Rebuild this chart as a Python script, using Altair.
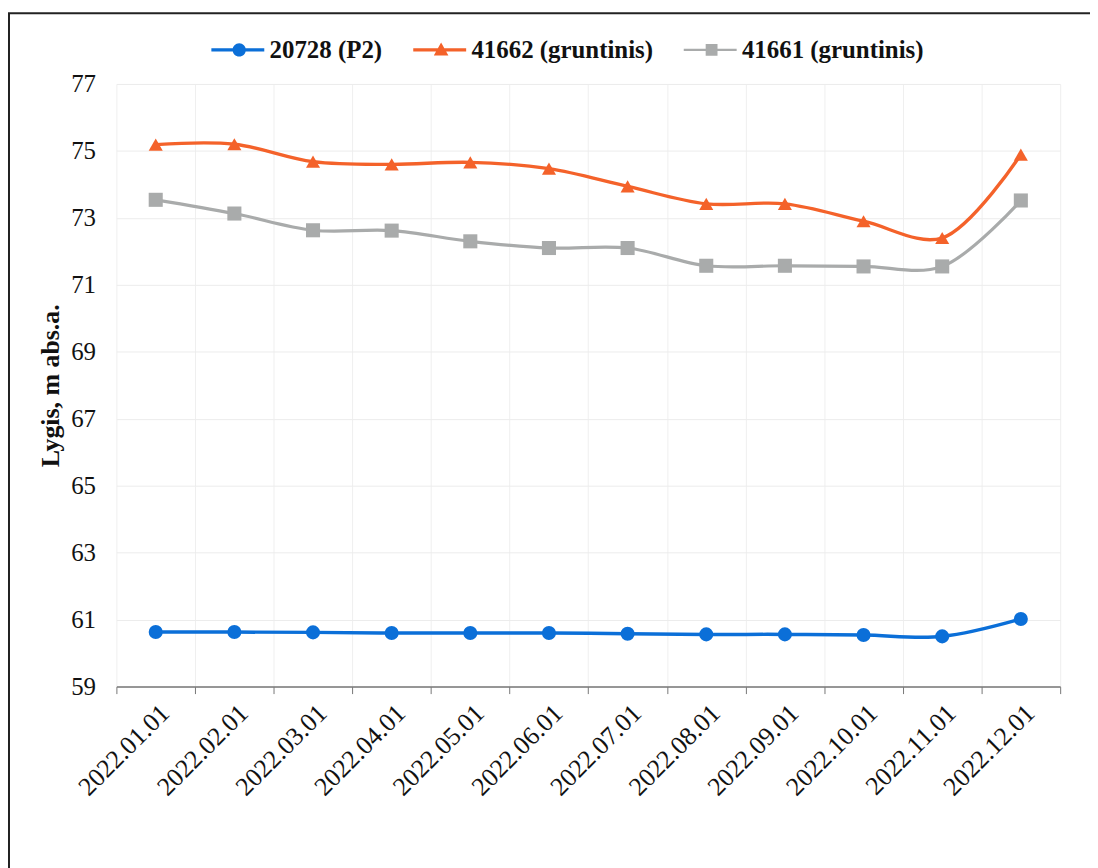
import altair as alt
import pandas as pd

dates = ["2022.01.01", "2022.02.01", "2022.03.01", "2022.04.01", "2022.05.01", "2022.06.01",
         "2022.07.01", "2022.08.01", "2022.09.01", "2022.10.01", "2022.11.01", "2022.12.01"]
series_names = ["20728 (P2)", "41662 (gruntinis)", "41661 (gruntinis)"]
s_20728 = [60.63, 60.63, 60.62, 60.60, 60.60, 60.60, 60.58, 60.56, 60.56, 60.54, 60.50, 61.02]
s_41662 = [75.19, 75.20, 74.68, 74.60, 74.66, 74.47, 73.94, 73.42, 73.42, 72.90, 72.40, 74.89]
s_41661 = [73.54, 73.13, 72.63, 72.62, 72.30, 72.10, 72.10, 71.57, 71.57, 71.55, 71.55, 73.52]
y_ticks = [59, 61, 63, 65, 67, 69, 71, 73, 75, 77]

colors = ["#0b6fd8", "#f4622a", "#a9abab"]
point_shapes = ["circle", "triangle-up", "square"]
# legend symbols: a line segment with the marker in the middle (unit box -1..1)
legend_shapes = [
    "M-4,-0.22H3.6V0.22H-4Z M0,-0.95 A0.95,0.95 0 1,1 0,0.95 A0.95,0.95 0 1,1 0,-0.95Z",
    "M-4,-0.22H3.6V0.22H-4Z M0,-1.05 L1.05,0.8 H-1.05Z",
    "M-4,-0.15H3.6V0.15H-4Z M-0.85,-0.85 H0.85 V0.85 H-0.85Z",
]

rows = []
for name, vals in zip(series_names, [s_20728, s_41662, s_41661]):
    for d, v in zip(dates, vals):
        rows.append({"date": d, "series": name, "value": v})
df = pd.DataFrame(rows)

FONT = "Liberation Serif"

x_enc = alt.X("date:N", sort=dates, title=None,
              scale=alt.Scale(type="band", paddingInner=0, paddingOuter=0),
              axis=alt.Axis(labelAngle=-45, labelFont=FONT, labelFontSize=26, labelColor="#111",
                            tickBand="extent", tickSize=7, tickColor="#777", domainColor="#777",
                            domainWidth=1.5, labelPadding=6, grid=True, gridColor="#efefef"))
y_enc = alt.Y("value:Q", title="Lygis, m abs.a.",
              scale=alt.Scale(domain=[59, 77], nice=False, zero=False),
              axis=alt.Axis(values=y_ticks, labelFont=FONT, labelFontSize=25, labelColor="#111",
                            domain=False, ticks=False, labelPadding=21, grid=True, gridColor="#ececec",
                            titleFont=FONT, titleFontSize=26, titleFontWeight="bold", titleColor="#111",
                            titlePadding=7))
color_scale = alt.Scale(domain=series_names, range=colors)

lines = alt.Chart(df).mark_line(interpolate="catmull-rom").encode(
    x=x_enc, y=y_enc,
    color=alt.Color("series:N", scale=color_scale, legend=None),
    strokeWidth=alt.StrokeWidth("series:N", scale=alt.Scale(domain=series_names, range=[3.5, 3.2, 2.4]), legend=None),
)
points = alt.Chart(df).mark_point(filled=True, opacity=1, size=200).encode(
    x=x_enc, y=y_enc,
    color=alt.Color("series:N", scale=color_scale, legend=None),
    shape=alt.Shape("series:N", scale=alt.Scale(domain=series_names, range=point_shapes), legend=None),
)
leg = alt.Legend(title=None, labelFont=FONT, labelFontSize=25, labelFontWeight="bold", labelColor="#111",
                 labelLimit=0, orient="none", legendX=90, legendY=-47, direction="horizontal",
                 symbolSize=196, symbolOffset=21, labelOffset=18, columnPadding=25)
legend_layer = alt.Chart(df).transform_filter("false").mark_point(filled=True, opacity=1).encode(
    x=x_enc, y=y_enc,
    color=alt.Color("series:N", scale=alt.Scale(domain=series_names, range=colors), legend=leg),
    shape=alt.Shape("series:N", scale=alt.Scale(domain=series_names, range=legend_shapes), legend=leg),
)

frame_top = alt.Chart(alt.Data(values=[{}])).mark_rule(color="#222", strokeWidth=2).encode(
    x=alt.value(-109), x2=alt.value(1100), y=alt.value(-71))
frame_left = alt.Chart(alt.Data(values=[{}])).mark_rule(color="#222", strokeWidth=2).encode(
    x=alt.value(-108), y=alt.value(-71), y2=alt.value(800))

chart = alt.layer(lines, points, legend_layer, frame_top, frame_left).resolve_scale(
    color="independent", shape="independent"
).properties(
    width=949, height=606,
    autosize=alt.AutoSizeParams(type="none"),
    padding={"left": 109, "top": 74, "right": 30, "bottom": 180},
    background="white",
).configure_view(stroke=None)

chart.save("out.html", embed_options={"renderer": "svg", "actions": False})
